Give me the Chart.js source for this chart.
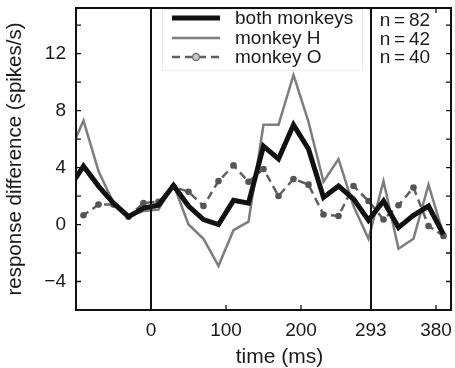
<!DOCTYPE html>
<html><head><meta charset="utf-8">
<script src="https://cdn.jsdelivr.net/npm/chart.js@4.4.1/dist/chart.umd.min.js"></script>
<style>html,body{margin:0;padding:0;background:#fff;overflow:hidden;}</style>
</head><body>
<canvas id="c" width="455" height="368"></canvas>
<script>
// ---- data ----
const timeMs = [-110, -90, -70, -50, -30, -10, 10, 30, 50, 70, 90, 110, 130, 150, 170, 190, 210, 230, 250, 270, 290, 310, 330, 350, 370, 390];
const bothMonkeys = [2.5, 4.1, 2.7, 1.5, 0.55, 1.15, 1.35, 2.75, 1.3, 0.35, 0.0, 1.7, 1.5, 5.5, 4.6, 7.0, 5.3, 1.9, 2.7, 1.8, 0.3, 1.65, -0.2, 0.65, 1.3, -0.7];
const monkeyH = [4.9, 7.3, 3.75, 1.5, 0.6, 0.95, 1.05, 2.8, 0.0, -1.0, -2.9, -0.4, 0.2, 7.0, 7.0, 10.5, 7.2, 3.0, 4.6, 1.3, -1.0, 3.05, -1.7, -1.0, 2.8, -0.7];
const monkeyO = [0.6, 0.65, 1.4, 1.4, 0.55, 1.5, 1.6, 2.65, 2.3, 1.3, 3.05, 4.15, 3.0, 3.9, 2.0, 3.2, 2.8, 0.7, 0.6, 2.7, 1.65, 0.35, 1.35, 2.6, -0.1, -0.8];
const seriesLabels = ['both monkeys', 'monkey H', 'monkey O'];
const countLabels = ['n\u2009=\u200982', 'n\u2009=\u200942', 'n\u2009=\u200940'];
const xTickValues = [0, 100, 200, 293, 380];
const eventTimes = [0, 293];
const yTickLabelValues = [-4, 0, 4, 8, 12];
const xTitle = 'time (ms)';
const yTitle = 'response difference (spikes/s)';

const FONT = "'Liberation Sans', Arial, Helvetica, sans-serif";
const TXT = '#1a1a1a';

function pts(ys) { return timeMs.map((t, i) => ({x: t, y: ys[i]})); }
function noPad(s) { s.paddingTop = 0; s.paddingBottom = 0; s.paddingLeft = 0; s.paddingRight = 0; }

const decor = {
  id: 'decor',
  afterDatasetsDraw(chart) {
    const {ctx, chartArea: a, scales: {x, y}} = chart;
    ctx.save();
    ctx.strokeStyle = '#111';
    ctx.lineCap = 'butt';
    // event lines
    ctx.lineWidth = 2;
    eventTimes.forEach(v => {
      const px = Math.round(x.getPixelForValue(v));
      ctx.beginPath(); ctx.moveTo(px, a.top); ctx.lineTo(px, a.bottom); ctx.stroke();
    });
    // inward tick marks
    ctx.lineWidth = 1.3;
    xTickValues.forEach(v => {
      if (eventTimes.includes(v)) return;
      const px = x.getPixelForValue(v);
      ctx.beginPath();
      ctx.moveTo(px, a.bottom); ctx.lineTo(px, a.bottom - 5);
      ctx.moveTo(px, a.top); ctx.lineTo(px, a.top + 5);
      ctx.stroke();
    });
    for (let v = -6; v <= 14; v += 2) {
      const py = y.getPixelForValue(v);
      ctx.beginPath();
      ctx.moveTo(a.left, py); ctx.lineTo(a.left + 5, py);
      ctx.moveTo(a.right, py); ctx.lineTo(a.right - 5, py);
      ctx.stroke();
    }
    // box
    ctx.lineWidth = 2;
    ctx.strokeRect(a.left, a.top, a.right - a.left, a.bottom - a.top);

    // legend
    const lx = a.left + 86, ltop = a.top + 1, lw = 200, lh = 61;
    ctx.fillStyle = '#fff';
    ctx.fillRect(lx, ltop, lw, lh);
    ctx.strokeStyle = '#ececec'; ctx.lineWidth = 1;
    ctx.strokeRect(lx + 0.5, ltop + 0.5, lw, lh);
    const rows = [a.top + 10, a.top + 30, a.top + 49];
    chart.data.datasets.forEach((ds, i) => {
      const ry = rows[i];
      ctx.save();
      ctx.strokeStyle = ds.borderColor;
      ctx.lineWidth = ds.borderWidth;
      ctx.setLineDash(ds.borderDash || []);
      ctx.beginPath(); ctx.moveTo(lx + 10, ry); ctx.lineTo(lx + 58, ry); ctx.stroke();
      ctx.setLineDash([]);
      if (ds.pointRadius > 0) {
        ctx.fillStyle = '#c8c8c8'; ctx.strokeStyle = '#777'; ctx.lineWidth = 1.5;
        ctx.beginPath(); ctx.arc(lx + 34, ry, 3.5, 0, Math.PI * 2); ctx.fill(); ctx.stroke();
      }
      ctx.restore();
      ctx.fillStyle = TXT;
      ctx.font = '19px ' + FONT;
      ctx.textBaseline = 'middle';
      ctx.textAlign = 'left';
      ctx.fillText(ds.label, lx + 73, ry + 1);
    });
    // counts
    ctx.fillStyle = TXT;
    ctx.font = '19px ' + FONT;
    ctx.textBaseline = 'middle';
    const nx = x.getPixelForValue(293) + 9;
    countLabels.forEach((t, i) => ctx.fillText(t, nx, a.top + 13 + i * 18.5));

    // x axis title
    ctx.font = '21px ' + FONT;
    ctx.textAlign = 'center';
    ctx.textBaseline = 'middle';
    ctx.fillText(xTitle, (a.left + a.right) / 2 + 16, a.bottom + 47);
    ctx.restore();
  }
};

new Chart(document.getElementById('c'), {
  type: 'line',
  data: {
    datasets: [
      {label: seriesLabels[0], data: pts(bothMonkeys), borderColor: '#111', borderWidth: 5, pointRadius: 0, clip: 0, tension: 0},
      {label: seriesLabels[1], data: pts(monkeyH), borderColor: '#7d7d7d', borderWidth: 2.5, pointRadius: 0, clip: 0, tension: 0},
      {label: seriesLabels[2], data: pts(monkeyO), borderColor: '#606060', borderWidth: 2.5, borderDash: [8, 5],
       pointRadius: 3.3, pointBackgroundColor: '#555', pointBorderWidth: 0, clip: 0, tension: 0}
    ]
  },
  options: {
    responsive: false,
    devicePixelRatio: 1,
    animation: false,
    layout: {padding: {left: 0, right: 4, top: 8, bottom: 0}},
    plugins: {legend: {display: false}, tooltip: {enabled: false}},
    scales: {
      x: {
        type: 'linear', min: -100, max: 400,
        afterBuildTicks: s => { s.ticks = xTickValues.map(v => ({value: v})); },
        afterFit: s => { s.height = 58; noPad(s); },
        grid: {display: false, drawTicks: false},
        border: {display: false},
        ticks: {color: TXT, font: {family: FONT, size: 19}, padding: 9, maxRotation: 0, autoSkip: false,
                callback: v => String(v)},
        title: {display: false, text: xTitle}
      },
      y: {
        type: 'linear', min: -6, max: 15.2,
        afterBuildTicks: s => { s.ticks = yTickLabelValues.map(v => ({value: v})); },
        afterFit: s => { s.width = 76; noPad(s); },
        grid: {display: false, drawTicks: false},
        border: {display: false},
        ticks: {color: TXT, font: {family: FONT, size: 19}, padding: 10,
                callback: v => (v < 0 ? '\u2212' + Math.abs(v) : String(v))},
        title: {display: true, text: yTitle, color: TXT, font: {family: FONT, size: 20.5}, padding: {top: 3, bottom: 0}}
      }
    }
  },
  plugins: [decor]
});
</script>
</body></html>
